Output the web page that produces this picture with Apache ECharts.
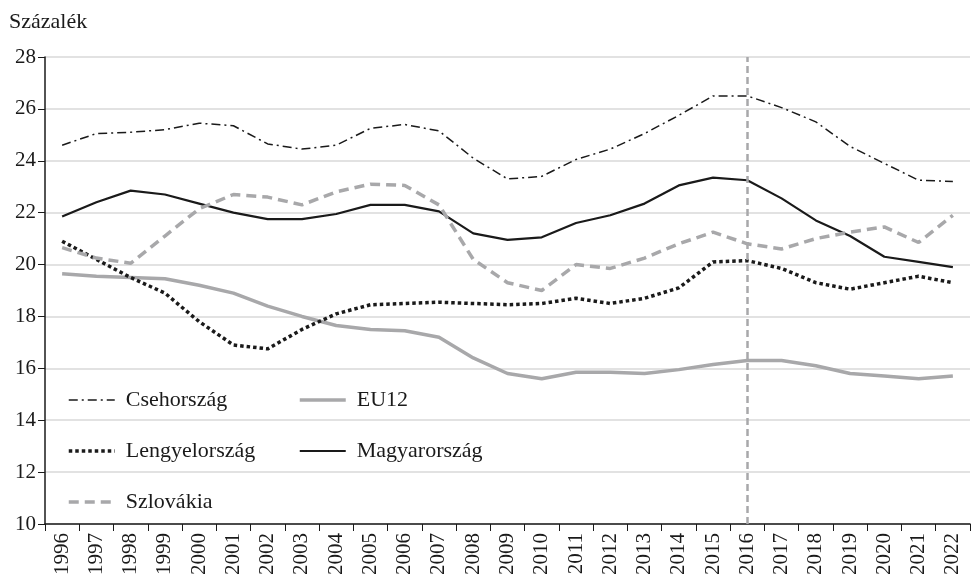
<!DOCTYPE html>
<html lang="hu">
<head>
<meta charset="utf-8">
<title>Százalék</title>
<script src="https://cdn.jsdelivr.net/npm/echarts@6/dist/echarts.min.js"></script>
</head>
<body style="margin:0">
<div id="chart" style="width:972px;height:582px"></div>
<script>
const years = ['1996','1997','1998','1999','2000','2001','2002','2003','2004','2005','2006','2007','2008','2009',
  '2010','2011','2012','2013','2014','2015','2016','2017','2018','2019','2020','2021','2022'];
const cseh = [24.6,25.05,25.1,25.2,25.45,25.35,24.65,24.45,24.6,25.25,25.4,25.15,24.1,23.3,
  23.4,24.05,24.45,25.05,25.75,26.5,26.5,26.05,25.5,24.55,23.9,23.25,23.2];
const magyar = [21.85,22.4,22.85,22.7,22.35,22.0,21.75,21.75,21.95,22.3,22.3,22.05,21.2,20.95,
  21.05,21.6,21.9,22.35,23.05,23.35,23.25,22.55,21.7,21.1,20.3,20.1,19.9];
const szlovak = [20.65,20.25,20.05,21.1,22.15,22.7,22.6,22.3,22.8,23.1,23.05,22.3,20.2,19.3,
  19.0,20.0,19.85,20.25,20.8,21.25,20.8,20.6,21.0,21.25,21.45,20.85,21.9];
const lengyel = [20.9,20.2,19.5,18.9,17.8,16.9,16.75,17.5,18.1,18.45,18.5,18.55,18.5,18.45,
  18.5,18.7,18.5,18.7,19.1,20.1,20.15,19.85,19.3,19.05,19.3,19.55,19.3];
const eu12 = [19.65,19.55,19.5,19.45,19.2,18.9,18.4,18.0,17.65,17.5,17.45,17.2,16.4,15.8,
  15.6,15.85,15.85,15.8,15.95,16.15,16.3,16.3,16.1,15.8,15.7,15.6,15.7];
const markYear = '2016';

const font = 'Liberation Serif';
const black = '#1a1a1a';
const gray = '#a8a8aa';

let chart = echarts.init(document.getElementById('chart'));

// name, data, colour, width, dash
const styles = {
  'Csehország': [cseh, black, 1.5, [9, 4, 2, 4]],
  'EU12': [eu12, gray, 3.5, 'solid'],
  'Lengyelország': [lengyel, black, 3.5, [3.5, 3]],
  'Magyarország': [magyar, black, 2.2, 'solid'],
  'Szlovákia': [szlovak, gray, 3.5, [10, 6]]
};

let series = Object.keys(styles).map(function (name) {
  let s = styles[name];
  return {
    name: name, type: 'line', data: s[0], symbol: 'none',
    lineStyle: {color: s[1], width: s[2], type: s[3]},
    itemStyle: {color: s[1]}
  };
});
series[0].markLine = {
  silent: true, symbol: 'none', label: {show: false},
  lineStyle: {color: gray, width: 2.5, type: [7, 4]},
  data: [{xAxis: markYear}]
};

function legendItems(names) {
  return names.map(function (n) {
    let s = styles[n];
    return {name: n, lineStyle: {color: s[1], width: s[2], type: s[3]}};
  });
}

let legendBase = {
  orient: 'vertical', itemWidth: 46, itemHeight: 22, itemGap: 29,
  itemStyle: {opacity: 0},
  textStyle: {fontFamily: font, fontSize: 22, color: black, padding: [0, 0, 0, 6]}
};

chart.setOption({
  animation: false,
  title: {text: 'Százalék', left: 4, top: 6,
    textStyle: {fontFamily: font, fontSize: 22, fontWeight: 'normal', color: black}},
  grid: {left: 45, right: 2, top: 57, bottom: 58},
  legend: [
    Object.assign({}, legendBase, {left: 62, top: 384, data: legendItems(['Csehország', 'Lengyelország', 'Szlovákia'])}),
    Object.assign({}, legendBase, {left: 293, top: 384, data: legendItems(['EU12', 'Magyarország'])})
  ],
  xAxis: {
    type: 'category', data: years, boundaryGap: true,
    axisLine: {lineStyle: {color: black, width: 1.5}},
    axisTick: {show: true, alignWithLabel: false, length: 7, lineStyle: {color: black}},
    axisLabel: {rotate: 90, fontFamily: font, fontSize: 21, color: black, margin: 9, interval: 0}
  },
  yAxis: {
    type: 'value', min: 10, max: 28, interval: 2,
    axisLine: {show: true, lineStyle: {color: black, width: 1.5}},
    axisTick: {show: true, length: 7, lineStyle: {color: black}},
    axisLabel: {fontFamily: font, fontSize: 21, color: black, margin: 9},
    splitLine: {lineStyle: {color: '#d9d9d9', width: 1.5}}
  },
  series: series
});
</script>
</body>
</html>
